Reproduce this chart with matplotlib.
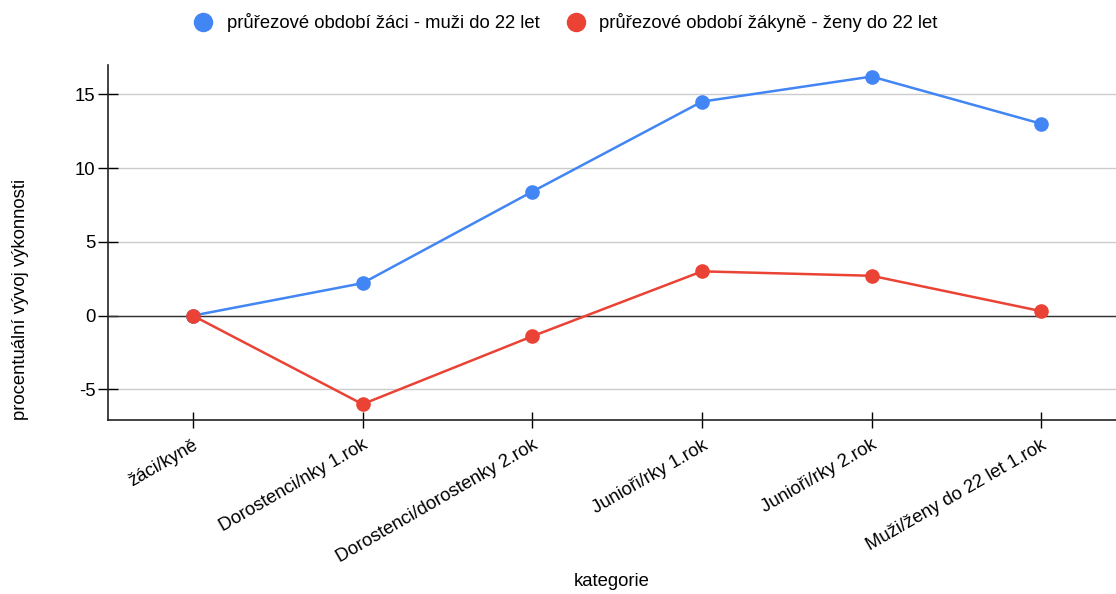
import matplotlib
matplotlib.use("Agg")
import matplotlib.pyplot as plt
from matplotlib.lines import Line2D

plt.rcParams['font.family'] = ['Liberation Sans', 'DejaVu Sans']
plt.rcParams['axes.unicode_minus'] = False

categories = ["žáci/kyně", "Dorostenci/nky 1.rok", "Dorostenci/dorostenky 2.rok",
              "Junioři/rky 1.rok", "Junioři/rky 2.rok", "Muži/ženy do 22 let 1.rok"]
muzi = [0.0, 2.2, 8.4, 14.5, 16.2, 13.0]
zeny = [0.0, -6.0, -1.4, 3.0, 2.7, 0.3]
series_names = ["průřezové období žáci - muži do 22 let",
                "průřezové období žákyně - ženy do 22 let"]
y_ticks = [-5, 0, 5, 10, 15]

blue = "#4285F4"
red = "#EA4335"
fs = 13.3

fig = plt.figure(figsize=(11.16, 5.94), dpi=100)
ax = fig.add_axes([0.0968, 0.293, 0.9032, 0.598])

x = range(len(categories))
ax.plot(x, muzi, color=blue, lw=1.8, marker='o', ms=9.5, zorder=4)
ax.plot(x, zeny, color=red, lw=1.8, marker='o', ms=9.5, zorder=4)

ax.set_xlim(-0.5, 5.44)
ax.set_ylim(-7.07, 17.0)
ax.set_yticks(y_ticks)
ax.set_yticklabels([str(t) for t in y_ticks])
ax.set_xticks(list(x))
ax.set_xticklabels(categories, rotation=30, ha='right', va='top',
                   rotation_mode='anchor')

ax.grid(axis='y', color='#cccccc', lw=1.0)
ax.axhline(0, color='#333333', lw=1.0, zorder=2)
ax.set_axisbelow(True)

for s in ['top', 'right']:
    ax.spines[s].set_visible(False)
for s in ['left', 'bottom']:
    ax.spines[s].set_linewidth(1.2)
    ax.spines[s].set_color('#222222')

ax.tick_params(axis='y', direction='inout', length=14, width=1.0,
               labelsize=fs, pad=2)
ax.tick_params(axis='x', direction='inout', length=12, width=1.0,
               labelsize=fs, pad=6)

ax.set_xlabel("kategorie", fontsize=fs)
ax.xaxis.set_label_coords(0.5, -0.43)
ax.set_ylabel("procentuální vývoj výkonnosti", fontsize=fs)
ax.yaxis.set_label_coords(-0.078, 0.34)

handles = [Line2D([], [], ls='none', marker='o', ms=13, color=blue),
           Line2D([], [], ls='none', marker='o', ms=13, color=red)]
fig.legend(handles, series_names, loc='center', bbox_to_anchor=(0.503, 0.962),
           ncol=2, frameon=False, fontsize=fs, handletextpad=0.25,
           columnspacing=1.0)

fig.savefig("out.png", dpi=100)
